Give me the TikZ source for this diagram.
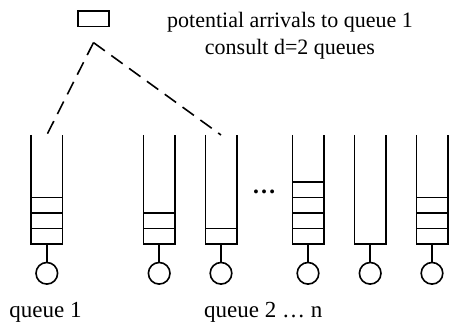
\documentclass[tikz,border=0pt]{standalone}
\usepackage{fontspec}
\setmainfont{Liberation Serif}
\usepackage{tikz}
\usetikzlibrary{positioning}
\tikzset{
	queue/.style={minimum width=15.7pt, minimum height=54.5pt, inner sep=0pt, outer sep=0pt},
	job/.style={draw, minimum width=15.7pt, minimum height=7.8pt, inner sep=0pt},
	server/.style={draw, circle, minimum size=10.8pt, inner sep=0pt},
	probe/.style={dash pattern=on 7pt off 4pt},
	label/.style={font=\fontsize{11.5}{13}\selectfont, inner sep=0pt, anchor=base}
}
\newcommand{\drawqueue}[2]{
	\draw (queue-#1.north west) -- (queue-#1.south west) -- (queue-#1.south east) -- (queue-#1.north east);
	\ifnum#2>0
		\foreach \k in {1,...,#2}{
			\draw ([yshift=\k*7.75pt]queue-#1.south west) -- ([yshift=\k*7.75pt]queue-#1.south east);
		}
	\fi
	\node[server, below=8.85pt of queue-#1] (server-#1) {};
	\draw (queue-#1.south) -- (server-#1.north);
}

\begin{document}
\begin{tikzpicture}[line width=0.8pt]
	\useasboundingbox (0,0) rectangle (225pt,-162pt);
	
	% arriving job and its text
	\node[job] (arrival) at (46.75pt,-9.4pt) {};
	\coordinate[below=7.6pt of arrival] (split);
	\node[align=center, inner sep=0pt, anchor=north, font=\fontsize{11}{13.3}\selectfont] (caption) at (145pt,-5.85pt) {potential arrivals to queue 1\\consult d=2 queues};
	
	% queues
	\node[queue] (queue-1) at (23.4pt,-94.75pt) {};
	\node[queue, right=40.5pt of queue-1] (queue-2) {};
	\node[queue, right=15.2pt of queue-2] (queue-3) {};
	\node[queue, right=27.8pt of queue-3] (queue-4) {};
	\node[queue, right=15.4pt of queue-4] (queue-5) {};
	\node[queue, right=15.2pt of queue-5] (queue-6) {};
	
	\drawqueue{1}{3}
	\drawqueue{2}{2}
	\drawqueue{3}{1}
	\drawqueue{4}{4}
	\drawqueue{5}{0}
	\drawqueue{6}{3}
	
	\node[inner sep=0pt, font=\fontsize{12}{12}\selectfont] (dots) at (132pt,-96pt) {\textbf{\ldots}};
	
	% sampled queues
	\draw[probe] (split) -- (queue-1.north);
	\draw[probe] (split) -- (queue-3.north);
	
	\node[label] (label-1) at (22.75pt,-159pt) {queue 1};
	\node[label, anchor=base west] (label-n) at (101.7pt,-159pt) {queue 2 \ldots\ n};
\end{tikzpicture}
\end{document}
